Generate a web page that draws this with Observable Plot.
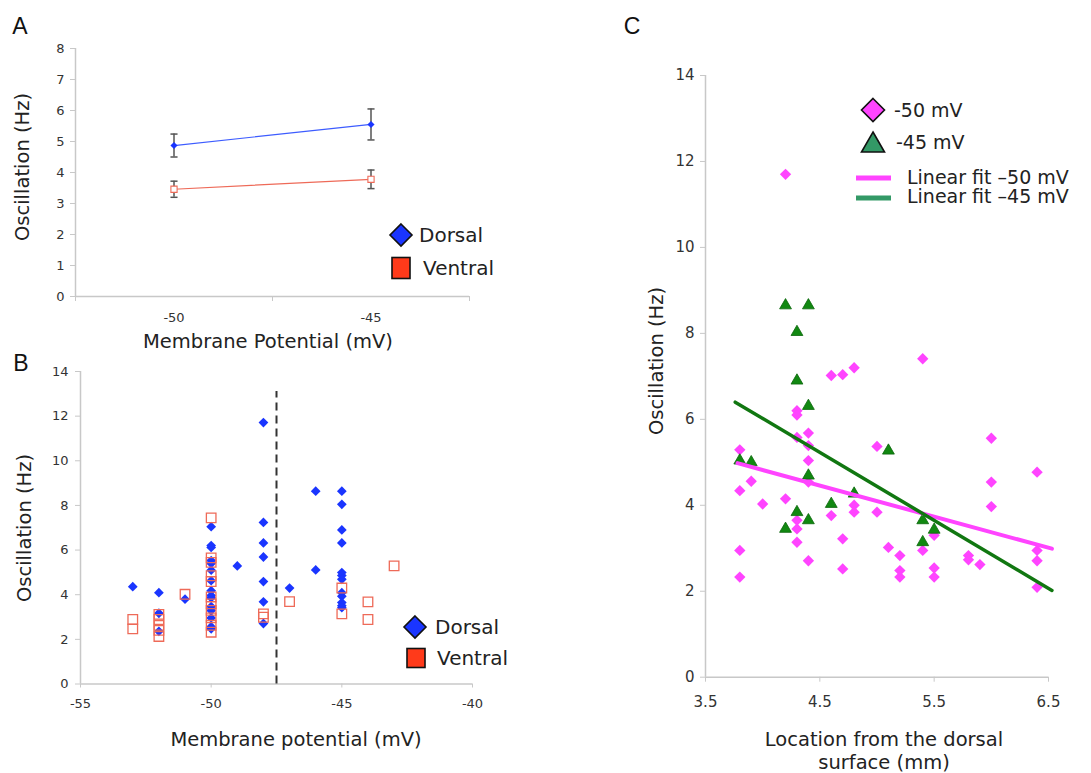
<!DOCTYPE html>
<html>
<head>
<meta charset="utf-8">
<script src="https://cdn.jsdelivr.net/npm/d3@7"></script>
<script src="https://cdn.jsdelivr.net/npm/@observablehq/plot@0.6"></script>
<style>
  body { margin: 0; background: #fff; }
  #fig { position: relative; width: 1091px; height: 773px; overflow: hidden; background: #fff; }
  .panel { position: absolute; }
  #overlay { position: absolute; left: 0; top: 0; pointer-events: none; }
</style>
</head>
<body>
<div id="fig">
  <div class="panel" id="pA" style="left:0px;top:0px"></div>
  <div class="panel" id="pB" style="left:0px;top:360px"></div>
  <div class="panel" id="pC" style="left:620px;top:40px"></div>
</div>
<script>
// ---------------- Panel A data (mean ± error) ----------------
const potentialsA = [-50, -45];
const dorsalMeanA = [4.87, 5.55];
const dorsalErrA = [0.37, 0.50];
const ventralMeanA = [3.46, 3.78];
const ventralErrA = [0.26, 0.30];
const yTicksA = [0, 1, 2, 3, 4, 5, 6, 7, 8];
const xLabelTicksA = [-50, -45];
const xTickMarksA = [-52.5, -47.5, -42.5];

// ---------------- Panel B data (individual cells) ----------------
const dorsalVoltB = [
  -53,
  -52, -52, -52,
  -51,
  -50, -50, -50, -50, -50, -50, -50, -50, -50, -50, -50, -50, -50, -50, -50,
  -49,
  -48, -48, -48, -48, -48, -48, -48,
  -47,
  -46, -46,
  -45, -45, -45, -45, -45, -45, -45, -45, -45, -45, -45, -45
];
const dorsalFreqB = [
  4.36,
  4.09, 3.17, 2.36,
  3.80,
  7.05, 6.20, 6.12, 5.53, 5.40, 5.10, 4.63, 4.18, 3.96, 3.86, 3.47, 3.29, 2.96, 2.57, 2.47,
  5.29,
  11.71, 7.24, 6.32, 5.69, 4.59, 3.68, 2.71,
  4.30,
  8.64, 5.11,
  8.64, 8.05, 6.90, 6.32, 4.99, 4.86, 4.69, 4.09, 3.93, 3.65, 3.51, 3.42
];
const ventralVoltB = [
  -53, -53,
  -52, -52, -52, -52, -52,
  -51,
  -50, -50, -50, -50, -50, -50, -50, -50, -50, -50, -50,
  -48, -48,
  -47,
  -45, -45,
  -44, -44,
  -43
];
const ventralFreqB = [
  2.89, 2.47,
  3.12, 2.89, 2.63, 2.40, 2.13,
  4.02,
  7.44, 5.65, 5.45, 4.85, 4.59, 3.90, 3.59, 3.30, 2.96, 2.63, 2.32,
  3.14, 2.99,
  3.69,
  4.30, 3.14,
  3.68, 2.89,
  5.29
];
const yTicksB = [0, 2, 4, 6, 8, 10, 12, 14];
const xTicksB = [-55, -50, -45, -40];
const thresholdVoltB = -47.5;
const thresholdTopB = 13.1;

// ---------------- Panel C data (location vs oscillation) ----------------
const loc50 = [4.2, 4.6, 4.7, 4.8, 5.4, 4.3, 4.3, 4.4, 4.3, 4.4, 4.4, 5.0, 3.8, 3.9, 4.4, 3.8, 4.0, 4.2,
  4.3, 4.3, 4.3, 4.4, 3.8, 3.8, 4.6, 4.7, 4.7, 4.8, 4.8, 5.0, 5.1, 5.2, 5.2, 5.2, 5.5, 5.4, 5.5, 5.5,
  5.8, 5.8, 5.9, 6.0, 6.0, 6.0, 6.4, 6.4, 6.4, 6.4];
const freq50 = [11.70, 7.02, 7.04, 7.20, 7.41, 6.20, 6.10, 5.68, 5.58, 5.39, 5.04, 5.37, 5.29, 4.56, 4.54, 4.34, 4.03, 4.15,
  3.65, 3.45, 3.14, 2.71, 2.95, 2.33, 3.76, 3.22, 2.52, 4.00, 3.84, 3.84, 3.02, 2.83, 2.48, 2.33, 3.30, 2.95, 2.54, 2.33,
  2.83, 2.73, 2.62, 5.56, 4.54, 3.97, 4.77, 2.95, 2.71, 2.09];
const loc45 = [4.2, 4.4, 4.3, 4.3, 4.4, 5.1, 3.8, 3.9, 4.4, 4.3, 4.4, 4.2, 4.6, 4.8, 5.4, 5.5, 5.4];
const freq45 = [8.65, 8.65, 8.03, 6.90, 6.31, 5.27, 5.04, 5.00, 4.69, 3.84, 3.65, 3.45, 4.03, 4.27, 3.65, 3.43, 3.14];
const fitLoc50 = [3.78, 6.53];
const fitFreq50 = [4.98, 2.99];
const fitLoc45 = [3.76, 6.53];
const fitFreq45 = [6.40, 2.02];
const yTicksC = [0, 2, 4, 6, 8, 10, 12, 14];
const xTicksC = [3.5, 4.5, 5.5, 6.5];

// ---------------- styles ----------------
const FONT = "'DejaVu Sans', Verdana, sans-serif";
const AXIS = "#c8c8c8";
const TICKTXT = "#333";
const BLUE = "#1a35ff";
const RED_OPEN = "#ee6a58";
const MAGENTA = "#ff44ff";
const GREEN = "#118811";

const capSymbol = {
  draw(ctx, size) {
    const w = Math.sqrt(size) / 2;
    ctx.moveTo(-w, 0);
    ctx.lineTo(w, 0);
  }
};

// ---------------- Panel A ----------------
const rowsA = potentialsA.map((x, i) => ({
  x, d: dorsalMeanA[i], de: dorsalErrA[i], v: ventralMeanA[i], ve: ventralErrA[i]
}));
const errRowsA = rowsA.flatMap(r => [
  {x: r.x, lo: r.d - r.de, hi: r.d + r.de},
  {x: r.x, lo: r.v - r.ve, hi: r.v + r.ve}
]);
const capRowsA = errRowsA.flatMap(r => [{x: r.x, y: r.lo}, {x: r.x, y: r.hi}]);

const plotA = Plot.plot({
  width: 560, height: 350,
  marginLeft: 75, marginRight: 91, marginTop: 48, marginBottom: 54,
  x: {type: "linear", domain: [-52.5, -42.5]},
  y: {domain: [0, 8]},
  style: {fontFamily: FONT, background: "transparent", overflow: "visible"},
  marks: [
    Plot.ruleY([0], {stroke: AXIS, strokeWidth: 1.5}),
    Plot.ruleX([-52.5], {stroke: AXIS, strokeWidth: 1.5}),
    Plot.axisY({ticks: yTicksA, tickSize: 5, tickPadding: 6, stroke: AXIS, fill: TICKTXT, fontSize: 13, label: null, tickFormat: d => String(d)}),
    Plot.axisX({ticks: xTickMarksA, tickSize: 5, stroke: AXIS, tickFormat: () => "", label: null}),
    Plot.axisX({ticks: xLabelTicksA, tickSize: 0, tickPadding: 16, fill: TICKTXT, fontSize: 13, label: null, tickFormat: d => String(d)}),
    Plot.line(rowsA, {x: "x", y: "v", stroke: RED_OPEN, strokeWidth: 1.2}),
    Plot.line(rowsA, {x: "x", y: "d", stroke: "#3d5cff", strokeWidth: 1.2}),
    Plot.ruleX(errRowsA, {x: "x", y1: "lo", y2: "hi", stroke: "#555", strokeWidth: 1.5}),
    Plot.dot(capRowsA, {x: "x", y: "y", symbol: capSymbol, r: 4, stroke: "#555", strokeWidth: 1.5}),
    Plot.dot(rowsA, {x: "x", y: "d", symbol: "diamond2", r: 3.2, fill: BLUE}),
    Plot.dot(rowsA, {x: "x", y: "v", symbol: "square", r: 3.5, stroke: RED_OPEN, fill: "white", strokeWidth: 1.1})
  ]
});
document.getElementById("pA").appendChild(plotA);

// ---------------- Panel B ----------------
const dorsalB = dorsalVoltB.map((x, i) => ({x, y: dorsalFreqB[i]}));
const ventralB = ventralVoltB.map((x, i) => ({x, y: ventralFreqB[i]}));
const plotB = Plot.plot({
  width: 560, height: 360,
  marginLeft: 80, marginRight: 88, marginTop: 11, marginBottom: 36.5,
  x: {domain: [-55, -40]},
  y: {domain: [0, 14]},
  style: {fontFamily: FONT, background: "transparent", overflow: "visible"},
  marks: [
    Plot.ruleY([0], {stroke: AXIS, strokeWidth: 1.5}),
    Plot.ruleX([-55], {stroke: AXIS, strokeWidth: 1.5}),
    Plot.axisY({ticks: yTicksB, tickSize: 5, tickPadding: 7, stroke: AXIS, fill: TICKTXT, fontSize: 13, label: null, tickFormat: d => String(d)}),
    Plot.axisX({ticks: xTicksB, tickSize: 4, tickPadding: 11, stroke: AXIS, fill: TICKTXT, fontSize: 13, label: null, tickFormat: d => String(d)}),
    Plot.ruleX([{x: thresholdVoltB, y1: 0, y2: thresholdTopB}], {x: "x", y1: "y1", y2: "y2", stroke: "#333", strokeWidth: 2, strokeDasharray: "8,5"}),
    Plot.dot(dorsalB, {x: "x", y: "y", symbol: "diamond2", r: 4.4, fill: BLUE}),
    Plot.dot(ventralB, {x: "x", y: "y", symbol: "square", r: 5.4, stroke: RED_OPEN, fill: "none", strokeWidth: 1.3})
  ]
});
document.getElementById("pB").appendChild(plotB);

// ---------------- Panel C ----------------
const pts50 = loc50.map((x, i) => ({x, y: freq50[i]}));
const pts45 = loc45.map((x, i) => ({x, y: freq45[i]}));
const fit50 = fitLoc50.map((x, i) => ({x, y: fitFreq50[i]}));
const fit45 = fitLoc45.map((x, i) => ({x, y: fitFreq45[i]}));
const plotC = Plot.plot({
  width: 471, height: 690,
  marginLeft: 85, marginRight: 43, marginTop: 35, marginBottom: 53.3,
  x: {domain: [3.5, 6.5]},
  y: {domain: [0, 14]},
  style: {fontFamily: FONT, background: "transparent", overflow: "visible"},
  marks: [
    Plot.ruleY([0], {stroke: AXIS, strokeWidth: 1.5}),
    Plot.ruleX([3.5], {stroke: AXIS, strokeWidth: 1.5}),
    Plot.axisY({ticks: yTicksC, tickSize: 5, tickPadding: 6, stroke: AXIS, fill: TICKTXT, fontSize: 15, label: null, tickFormat: d => String(d)}),
    Plot.axisX({ticks: xTicksC, tickSize: 5, tickPadding: 14, stroke: AXIS, fill: TICKTXT, fontSize: 15, label: null, tickFormat: d => d.toFixed(1)}),
    Plot.dot(pts50, {x: "x", y: "y", symbol: "diamond2", r: 5.1, fill: MAGENTA}),
    Plot.dot(pts45, {x: "x", y: "y", symbol: "triangle", r: 4.4, fill: GREEN, stroke: "#0b660b", strokeWidth: 0.8}),
    Plot.line(fit50, {x: "x", y: "y", stroke: MAGENTA, strokeWidth: 4}),
    Plot.line(fit45, {x: "x", y: "y", stroke: "#117711", strokeWidth: 3.5})
  ]
});
document.getElementById("pC").appendChild(plotC);

// ---------------- overlay: titles, panel letters, legends ----------------
const svg = d3.select("#fig").append("svg")
  .attr("id", "overlay").attr("width", 1091).attr("height", 773);

function txt(x, y, s, {size = 19, anchor = "start", rotate = 0, family = FONT, color = "#222"} = {}) {
  const t = svg.append("text")
    .attr("x", 0).attr("y", 0)
    .attr("dy", "0.36em")
    .attr("text-anchor", anchor)
    .attr("font-family", family)
    .attr("font-size", size)
    .attr("fill", color)
    .attr("transform", `translate(${x},${y}) rotate(${rotate})`)
    .text(s);
  return t;
}
const LETTER = "'Liberation Sans', Arial, sans-serif";
txt(20, 26, "A", {size: 23, anchor: "middle", family: LETTER, color: "#111"});
txt(21, 363, "B", {size: 23, anchor: "middle", family: LETTER, color: "#111"});
txt(632, 26, "C", {size: 23, anchor: "middle", family: LETTER, color: "#111"});

txt(268, 341, "Membrane Potential (mV)", {size: 19.5, anchor: "middle"});
txt(22, 167, "Oscillation (Hz)", {size: 19.5, anchor: "middle", rotate: -90});
txt(296, 739, "Membrane potential (mV)", {size: 19.5, anchor: "middle"});
txt(24, 528, "Oscillation (Hz)", {size: 19.5, anchor: "middle", rotate: -90});
txt(884, 739, "Location from the dorsal", {size: 19.5, anchor: "middle"});
txt(884, 762, "surface (mm)", {size: 19.5, anchor: "middle"});
txt(656, 361, "Oscillation (Hz)", {size: 19.5, anchor: "middle", rotate: -90});

function diamondIcon(cx, cy, h, fill) {
  svg.append("path")
    .attr("d", `M${cx},${cy - h}L${cx + h},${cy}L${cx},${cy + h}L${cx - h},${cy}Z`)
    .attr("fill", fill).attr("stroke", "#111").attr("stroke-width", 1.6);
}
function squareIcon(cx, cy, w, h, fill) {
  svg.append("rect")
    .attr("x", cx - w / 2).attr("y", cy - h / 2).attr("width", w).attr("height", h)
    .attr("fill", fill).attr("stroke", "#111").attr("stroke-width", 1.6);
}
function triangleIcon(cx, cy, w, h, fill) {
  svg.append("path")
    .attr("d", `M${cx},${cy - h / 2}L${cx + w / 2},${cy + h / 2}L${cx - w / 2},${cy + h / 2}Z`)
    .attr("fill", fill).attr("stroke", "#111").attr("stroke-width", 1.6);
}
function lineIcon(x1, x2, y, color) {
  svg.append("line").attr("x1", x1).attr("x2", x2).attr("y1", y).attr("y2", y)
    .attr("stroke", color).attr("stroke-width", 5);
}

// Legend A
diamondIcon(401, 235, 11, BLUE);
txt(419, 235, "Dorsal", {size: 20});
squareIcon(401, 268, 18, 21, "#ff3a1a");
txt(423, 268, "Ventral", {size: 20});

// Legend B
diamondIcon(415, 627, 11, BLUE);
txt(435, 627, "Dorsal", {size: 20});
squareIcon(416, 658, 18, 19, "#ff3a1a");
txt(437, 658, "Ventral", {size: 20});

// Legend C
diamondIcon(873, 110, 11.5, MAGENTA);
txt(894, 110, "-50 mV", {size: 19});
triangleIcon(873, 142, 23, 20, "#339966");
txt(896, 142, "-45 mV", {size: 19});
lineIcon(856, 891, 178, MAGENTA);
txt(907, 177, "Linear fit \u201350 mV", {size: 19});
lineIcon(856, 891, 198, "#339966");
txt(907, 196, "Linear fit \u201345 mV", {size: 19});
</script>
</body>
</html>
